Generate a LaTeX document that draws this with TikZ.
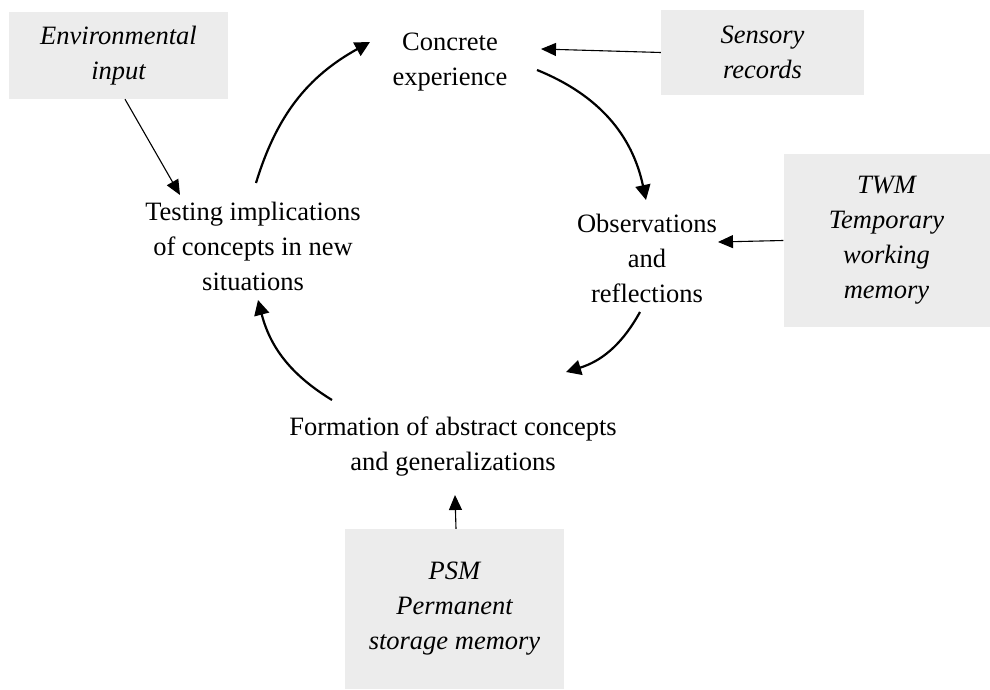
\documentclass[tikz,border=0pt]{standalone}
\usepackage{fontspec}
\setmainfont{Liberation Serif}
\usetikzlibrary{arrows.meta}
\definecolor{memgrey}{HTML}{ECECEC}

\tikzset{
  stagetext/.style={align=center,inner sep=2pt},
  memorybox/.style={fill=memgrey,align=center,font=\fontsize{26.5}{35}\selectfont\itshape,inner sep=0pt},
  cyclearrow/.style={-{Triangle[length=15pt,width=15pt]},line width=2.2pt},
  feedarrow/.style={-{Triangle[length=15pt,width=13pt]},line width=1.1pt}
}

\begin{document}
\begin{tikzpicture}[x=1pt,y=1pt,font=\fontsize{26.5}{35}\selectfont]
  \useasboundingbox (0,0) rectangle (990,689);

  % stages of the cycle
  \node[stagetext] (concrete) at (450,627) {Concrete\\experience};
  \node[stagetext] (observe) at (647,431) {Observations\\and\\reflections};
  \node[stagetext] (abstract) at (453,242) {Formation of abstract concepts\\and generalizations};
  \node[stagetext] (testing) at (253,443) {Testing implications\\of concepts in new\\situations};

  % memory stores
  \node[memorybox,minimum width=219,minimum height=87] (envin) at (118.5,633.5) {Environmental\\input};
  \node[memorybox,minimum width=203,minimum height=85] (sensory) at (762.5,636.5) {Sensory\\records};
  \node[memorybox,minimum width=206,minimum height=173] (twm) at (886.5,448.5) {TWM\\Temporary\\working\\memory};
  \node[memorybox,minimum width=219,minimum height=160] (psm) at (454.5,80) {PSM\\Permanent\\storage memory};

  % the cycle
  \draw[cyclearrow] ([shift={(3,63)}]testing.center) to[bend left=22] ([shift={(-80,20)}]concrete.center);
  \draw[cyclearrow] ([shift={(87,-8)}]concrete.center) to[bend left=28] ([shift={(-1,58)}]observe.center);
  \draw[cyclearrow] ([shift={(-7,-54)}]observe.center) to[bend left=22] ([shift={(113,75)}]abstract.center);
  \draw[cyclearrow] ([shift={(-121,47)}]abstract.center) to[bend left=22] ([shift={(5,-54)}]testing.center);

  % inputs from memory
  \draw[feedarrow] ([xshift=6.5]envin.south) -- ([shift={(-73,51)}]testing.center);
  \draw[feedarrow] (sensory.west) -- ([shift={(91,13)}]concrete.center);
  \draw[feedarrow] (twm.west) -- ([shift={(71,16)}]observe.center);
  \draw[feedarrow] ([xshift=1.5]psm.north) -- ([shift={(2,-48)}]abstract.center);
\end{tikzpicture}
\end{document}
